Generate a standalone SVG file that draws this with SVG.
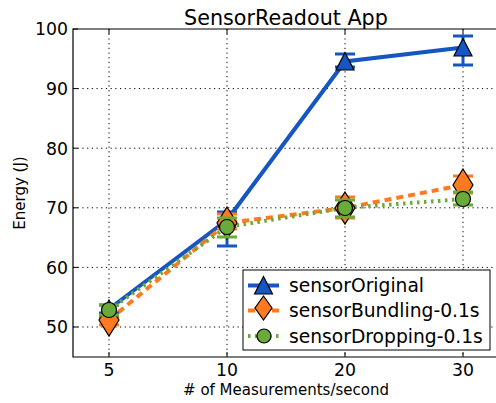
<svg xmlns="http://www.w3.org/2000/svg" width="496" height="403" viewBox="0 0 496 403">
<style>
text{font-family:"DejaVu Sans","Liberation Sans",sans-serif;fill:#000}
.tick{font-size:17.3px}
.grid{stroke:#000;stroke-width:1;stroke-dasharray:1.2,3.5;fill:none}
.spine{stroke:#000;stroke-width:1.2;fill:none}
.tk{stroke:#000;stroke-width:1}
.lb{stroke:#1556c1;stroke-width:4;fill:none}
.lo{stroke:#fd7a21;stroke-width:4;fill:none;stroke-dasharray:7,5}
.lg{stroke:#6aaa3a;stroke-width:4;fill:none;stroke-dasharray:2.5,4.5}
.eb{stroke:#1556c1;stroke-width:3;fill:none}
.eo{stroke:#fd7a21;stroke-width:3;fill:none}
.eg{stroke:#6aaa3a;stroke-width:3;fill:none}
.mb{fill:#1556c1;stroke:#000;stroke-width:1.2}
.mo{fill:#fd7a21;stroke:#000;stroke-width:1.2}
.mg{fill:#6aaa3a;stroke:#000;stroke-width:1.2}
</style>
<defs>
<path id="tri" d="M0,-9 L9,9 L-9,9 Z" transform="translate(0,0)"/>
<path id="tri0" d="M0,-9 L-9,8.5 L9,8.5 Z"/>
<path id="dia" d="M0,-16 L10,0 L0,16 L-10,0 Z"/>
<path id="diaL" d="M0,-12 L8.5,0 L0,12 L-8.5,0 Z"/>
</defs>
<rect x="0" y="0" width="496" height="403" fill="#fff"/>
<g id="grid">
<path class="grid" d="M109,29V357M227,29V357M345,29V357M463,29V357"/>
<path class="grid" d="M73,88.6H499M73,148.2H499M73,207.8H499M73,267.4H499M73,327H499"/>
</g>
<g id="axes">
<path class="spine" d="M73,29H499V357H73Z"/>
<path class="tk" d="M109,357v-5M227,357v-5M345,357v-5M463,357v-5M109,29v5M227,29v5M345,29v5M463,29v5"/>
<path class="tk" d="M73,29h5M73,88.6h5M73,148.2h5M73,207.8h5M73,267.4h5M73,327h5"/>
</g>
<g id="title"><text x="286" y="25" font-size="20.7" text-anchor="middle">SensorReadout App</text></g>
<g id="yticks" class="tick" text-anchor="end">
<text x="68" y="35.3">100</text>
<text x="68" y="94.9">90</text>
<text x="68" y="154.5">80</text>
<text x="68" y="214.1">70</text>
<text x="68" y="273.7">60</text>
<text x="68" y="333.3">50</text>
</g>
<g id="xticks" class="tick" text-anchor="middle">
<text x="109" y="376">5</text>
<text x="227" y="376">10</text>
<text x="345" y="376">20</text>
<text x="463" y="376">30</text>
</g>
<g id="xlabel"><text x="286" y="395" font-size="15" text-anchor="middle"># of Measurements/second</text></g>
<g id="ylabel"><text transform="translate(24.5,193) rotate(-90)" font-size="15" text-anchor="middle">Energy (J)</text></g>
<g id="connectors">
<polyline class="lb" points="109,309 227,220 345,61.5 463,47.5"/>
<polyline class="lo" points="109,320 227,223 345,208 463,185"/>
<polyline class="lg" points="109,310 227,227 345,208 463,199"/>
</g>
<g id="sensorOriginal">
<path class="eb" d="M109,305V313M99,305h20M99,313h20M227,212V246M217,212h20M217,246h20M345,54V67M335,54h20M335,67h20M463,36V65M453,36h20M453,65h20"/>
<use href="#tri0" class="mb" x="109" y="309"/>
<use href="#tri0" class="mb" x="227" y="220"/>
<use href="#tri0" class="mb" x="345" y="61.5"/>
<use href="#tri0" class="mb" x="463" y="47.5"/>
</g>
<g id="sensorBundling">
<path class="eo" d="M109,316V325M99,316h20M99,325h20M227,214V229M217,214h20M217,229h20M345,197V218M335,197h20M335,218h20M463,176V193M453,176h20M453,193h20"/>
<use href="#dia" class="mo" x="109" y="320"/>
<use href="#dia" class="mo" x="227" y="223"/>
<use href="#dia" class="mo" x="345" y="208"/>
<use href="#dia" class="mo" x="463" y="185"/>
</g>
<g id="sensorDropping">
<path class="eg" d="M109,305V315M99,305h20M99,315h20M227,218V237M217,218h20M217,237h20M345,200V217M335,200h20M335,217h20M463,192V205M453,192h20M453,205h20"/>
<circle class="mg" cx="109" cy="310" r="7.5"/>
<circle class="mg" cx="227" cy="227" r="7.5"/>
<circle class="mg" cx="345" cy="208" r="7.5"/>
<circle class="mg" cx="463" cy="199" r="7.5"/>
</g>
<g id="legend">
<rect x="243" y="270" width="247" height="80" fill="#fff" stroke="#000" stroke-width="1"/>
<line class="lb" x1="248" y1="285.5" x2="279" y2="285.5"/>
<use href="#tri0" class="mb" x="263.5" y="285.5"/>
<line class="lo" x1="248" y1="310.5" x2="279" y2="310.5" stroke-dasharray="5,4"/>
<use href="#diaL" class="mo" x="263.5" y="308"/>
<line class="lg" x1="248" y1="336" x2="279" y2="336" stroke-dasharray="2.5,5"/>
<circle class="mg" cx="264" cy="336" r="7"/>
<text x="289" y="291.5" font-size="18.7">sensorOriginal</text>
<text x="289" y="317" font-size="18.7">sensorBundling-0.1s</text>
<text x="289" y="342.5" font-size="18.7">sensorDropping-0.1s</text>
</g>
</svg>
